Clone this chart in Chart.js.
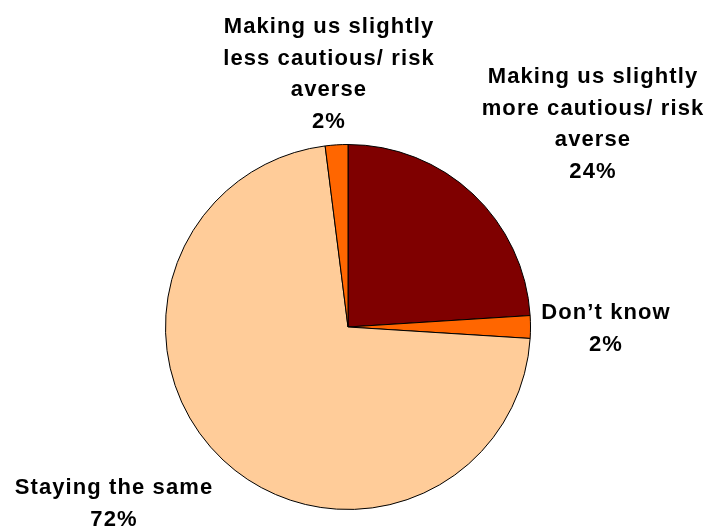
<!DOCTYPE html>
<html>
<head>
<meta charset="utf-8">
<script src="https://cdn.jsdelivr.net/npm/chart.js@4/dist/chart.umd.min.js"></script>
<style>
  html, body { margin: 0; padding: 0; background: #fff; }
  #wrap { width: 709px; height: 528px; }
</style>
</head>
<body>
<div id="wrap"><canvas id="chart-pie" width="709" height="528"></canvas></div>
<script>
// slices, clockwise from 12 o'clock
const categories = [
  'Making us slightly more cautious/ risk averse',
  "Don\u2019t know",
  'Staying the same',
  'Making us slightly less cautious/ risk averse'
];
const shares = [24, 2, 72, 2];
const sliceColors = ['#7f0000', '#ff6600', '#ffcc99', '#ff6600'];

// label text, split into lines (last line is the share)
const labelLines = [
  ['Making us slightly', 'more cautious/ risk', 'averse'],
  ["Don\u2019t know"],
  ['Staying the same'],
  ['Making us slightly', 'less cautious/ risk', 'averse']
];
// where each label block sits: center x, first line y
const labelAnchors = [
  { x: 593, y: 77 },
  { x: 606, y: 313 },
  { x: 114, y: 488 },
  { x: 329, y: 27 }
];

const pieLabels = {
  id: 'pieLabels',
  afterDraw(chart) {
    const ctx = chart.ctx;
    ctx.save();
    ctx.fillStyle = '#000';
    ctx.font = 'bold 22px "Liberation Sans", Arial, sans-serif';
    ctx.letterSpacing = '1.1px';
    ctx.textAlign = 'center';
    ctx.textBaseline = 'middle';
    labelLines.forEach((lines, i) => {
      const a = labelAnchors[i];
      const all = lines.concat([shares[i] + '%']);
      all.forEach((t, j) => ctx.fillText(t, a.x, a.y + j * 31.7));
    });
    ctx.restore();
  }
};

new Chart(document.getElementById('chart-pie'), {
  type: 'pie',
  data: {
    labels: categories,
    datasets: [{
      data: shares,
      backgroundColor: sliceColors,
      borderColor: '#000',
      borderWidth: 1
    }]
  },
  options: {
    responsive: false,
    animation: false,
    layout: { padding: { left: 165, right: 178, top: 144, bottom: 18 } },
    plugins: {
      legend: { display: false },
      tooltip: { enabled: false }
    }
  },
  plugins: [pieLabels]
});
</script>
</body>
</html>
